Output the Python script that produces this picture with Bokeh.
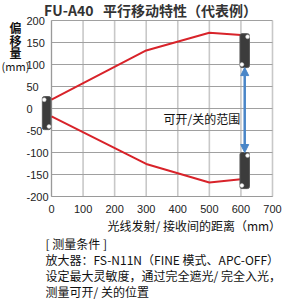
from bokeh.plotting import figure
from bokeh.models import Label, Arrow, NormalHead
from bokeh.core.properties import value
from bokeh.embed import file_html
from bokeh.resources import INLINE

# ---- data ----
x_upper = [0, 300, 500, 600]
y_upper = [20, 132, 172, 167]
x_lower = [0, 300, 500, 600]
y_lower = [-18, -126, -168, -161]

x_ticks = [0, 100, 200, 300, 400, 500, 600, 700]
y_ticks = [-200, -150, -100, -50, 0, 50, 100, 150, 200]
x_tick_labels = [str(t) for t in x_ticks]
y_tick_labels = [str(t) for t in y_ticks]

# sensor heads (left, right, bottom, top)
blk_left = [-29, 597, 597]
blk_right = [-2, 627, 627]
blk_bottom = [-48, 93, -182]
blk_top = [27, 170, -100]
# white dots on the heads
dot_x = [-23, -8, 621, 603, 621, 603]
dot_y = [20, -41, 163, 100, -107, -175]

arrow_x = 612
arrow_y0 = -100
arrow_y1 = 93

title_text = "FU-A40\u00a0\u00a0\u00a0平行移动特性（代表例）"
xlabel_text = "光线发射/ 接收间的距离（mm）"
ylabel_chars = ["偏", "移", "量"]
ylabel_unit = "(mm)"
range_text = "可开/关的范围"
notes = ["[ 测量条件 ]",
         "放大器：FS-N11N（FINE 模式、APC-OFF）",
         "设定最大灵敏度，通过完全遮光/ 完全入光，",
         "测量可开/ 关的位置"]

# ---- layout ----
W, H = 285, 304
L, R, T, B = 51, 272, 20, 196          # plot area in pixels
X0, X1, Y0, Y1 = 0, 700, -200, 200      # plot area in data units

def dx(px):
    return X0 + (px - L) * (X1 - X0) / (R - L)

def dy(py):
    return Y1 - (py - T) * (Y1 - Y0) / (B - T)

p = figure(width=W, height=H, output_backend="svg", toolbar_location=None,
           x_range=(dx(0), dx(W)), y_range=(dy(H), dy(0)),
           x_axis_location=None, y_axis_location=None,
           min_border=0, min_border_left=0, min_border_right=0,
           min_border_top=0, min_border_bottom=0)
p.background_fill_color = "white"
p.border_fill_color = "white"
p.outline_line_color = None
p.grid.visible = False

# grid
p.segment(x0=x_ticks, x1=x_ticks, y0=[Y0] * len(x_ticks), y1=[Y1] * len(x_ticks),
          line_color="#c8c8c8", line_width=1.6)
p.segment(x0=[X0] * len(y_ticks), x1=[X1] * len(y_ticks), y0=y_ticks, y1=y_ticks,
          line_color="#a0a0a0", line_width=1)
# axis lines
p.segment(x0=[X0, X0], x1=[X0, X1], y0=[Y0, Y0], y1=[Y1, Y0],
          line_color="#9a9a9a", line_width=1)

# tick labels
tick_font = value("Liberation Sans")
p.text(x=[dx(26)] * len(y_ticks), y=y_ticks, text=y_tick_labels,
       text_font=tick_font, text_font_size="11px", text_color="#222222",
       text_align="left", text_baseline="middle")
p.text(x=x_ticks, y=[dy(208)] * len(x_ticks), text=x_tick_labels,
       text_font=tick_font, text_font_size="11px", text_color="#222222",
       text_align="center", text_baseline="middle")

# red characteristic lines
p.line(x_upper, y_upper, line_color="#d8232a", line_width=2)
p.line(x_lower, y_lower, line_color="#d8232a", line_width=2)

# sensor heads
p.quad(left=blk_left, right=blk_right, bottom=blk_bottom, top=blk_top,
       fill_color="#3c3c3c", line_color="#555555", line_width=1,
       border_radius=2)
p.scatter(dot_x, dot_y, size=4, fill_color="white", line_color="#bbbbbb",
          line_width=0.5)

# blue double arrow
p.add_layout(Arrow(x_start=arrow_x, y_start=arrow_y0, x_end=arrow_x, y_end=arrow_y1,
                   line_color="#4a86c8", line_width=2.5,
                   start=NormalHead(size=8, fill_color="#4a86c8", line_color="#4a86c8"),
                   end=NormalHead(size=8, fill_color="#4a86c8", line_color="#4a86c8")))

cjk = "Noto Sans CJK SC"

def lab(px, py, text, size="12px", style="normal", color="#111111", align="left"):
    p.add_layout(Label(x=dx(px), y=dy(py), text=text, text_font=cjk,
                       text_font_size=size, text_font_style=style,
                       text_color=color, text_baseline="middle", text_align=align))

lab(163, 118, range_text)
lab(150, 9, title_text, size="14px", style="bold", color="#333333", align="center")
for i, ch in enumerate(ylabel_chars):
    lab(15, 27 + 12.5 * i, ch, size="12px", style="bold", align="center")
lab(15, 65, ylabel_unit, size="11px", align="center")
lab(107, 225, xlabel_text)
for i, line in enumerate(notes):
    lab(45, 243 + 16 * i, line)

open("out.html", "w").write(file_html(p, INLINE))
